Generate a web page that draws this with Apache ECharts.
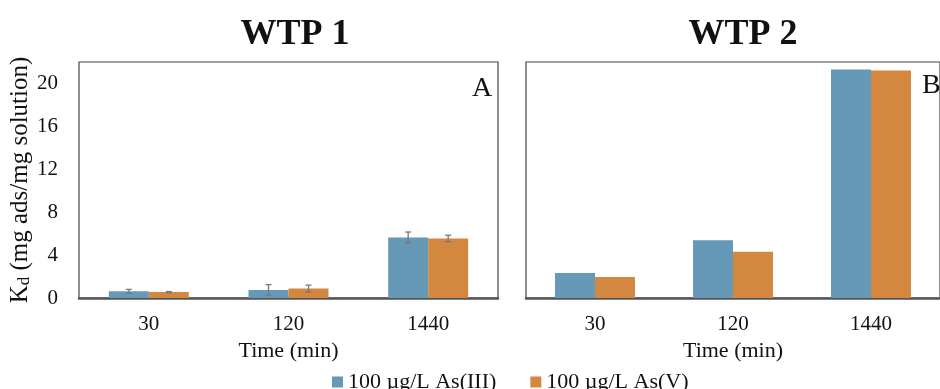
<!DOCTYPE html>
<html>
<head>
<meta charset="utf-8">
<script src="https://cdn.jsdelivr.net/npm/echarts@6/dist/echarts.min.js"></script>
<style>
html,body{margin:0;padding:0;background:#fff;}
#chart{width:940px;height:389px;}
</style>
</head>
<body>
<div id="chart"></div>
<script>
// ---- data ----
var categories = ['30', '120', '1440'];
var seriesNames = ['100 µg/L As(III)', '100 µg/L As(V)'];
var wtp1AsIII = [0.62, 0.75, 5.65];
var wtp1AsV = [0.55, 0.88, 5.55];
var wtp1AsIIIErr = [0.18, 0.5, 0.5];
var wtp1AsVErr = [0.05, 0.32, 0.3];
var wtp2AsIII = [2.32, 5.38, 21.3];
var wtp2AsV = [1.95, 4.3, 21.2];
var yTicks = [0, 4, 8, 12, 16, 20];

var BLUE = '#6699b8';
var ORANGE = '#d3873f';
var FONT = '"Liberation Serif", "Times New Roman", serif';
var BAR_W = 40;

var chart = echarts.init(document.getElementById('chart'), null, {renderer: 'canvas'});

function errRender(sign) {
  return function (params, api) {
    var idx = api.value(0), v = api.value(1), e = api.value(2);
    var x = api.coord([idx, 0])[0] + sign * BAR_W / 2;
    var yHi = api.coord([idx, v + e])[1];
    var yLo = api.coord([idx, v - e])[1];
    var st = {stroke: '#777', lineWidth: 1.3};
    return {
      type: 'group',
      children: [
        {type: 'line', shape: {x1: x, y1: yHi, x2: x, y2: yLo}, style: st},
        {type: 'line', shape: {x1: x - 3, y1: yHi, x2: x + 3, y2: yHi}, style: st},
        {type: 'line', shape: {x1: x - 3, y1: yLo, x2: x + 3, y2: yLo}, style: st}
      ]
    };
  };
}
function errData(vals, errs) {
  return vals.map(function (v, i) { return [i, v, errs[i]]; });
}

function xAxisCfg(gridIndex) {
  return {
    type: 'category', gridIndex: gridIndex, data: categories,
    name: 'Time (min)', nameLocation: 'middle', nameGap: 40,
    nameTextStyle: {fontFamily: FONT, fontSize: 22, color: '#111'},
    axisLine: {show: true, lineStyle: {color: '#555', width: 2.5}},
    axisTick: {show: false},
    axisLabel: {fontFamily: FONT, fontSize: 21, color: '#111', margin: 16}
  };
}
function yAxisCfg(gridIndex, showLabels) {
  var cfg = {
    type: 'value', gridIndex: gridIndex, min: 0, max: 22, interval: 4,
    axisLine: {show: false}, axisTick: {show: false}, splitLine: {show: false},
    axisLabel: {show: showLabels, showMaxLabel: false, fontFamily: FONT, fontSize: 21, color: '#111', margin: 21,
      formatter: function (v) { return yTicks.indexOf(v) >= 0 ? String(v) : ''; }}
  };
  if (showLabels) {
    cfg.name = 'K{sub|d} (mg ads/mg solution)';
    cfg.nameLocation = 'middle';
    cfg.nameGap = 46;
    cfg.nameTextStyle = {fontFamily: FONT, fontSize: 25, color: '#111',
      rich: {sub: {fontFamily: FONT, fontSize: 17, color: '#111', verticalAlign: 'bottom', padding: [8, 0, 0, 0]}}};
  }
  return cfg;
}

var option = {
  backgroundColor: '#fff',
  animation: false,
  color: [BLUE, ORANGE],
  title: [
    {text: 'WTP 1', left: 290, top: 12, textAlign: 'center',
      textStyle: {fontFamily: FONT, fontSize: 36, fontWeight: 'bold', color: '#111'}},
    {text: 'WTP 2', left: 738, top: 12, textAlign: 'center',
      textStyle: {fontFamily: FONT, fontSize: 36, fontWeight: 'bold', color: '#111'}}
  ],
  legend: {
    left: 327, top: 366, itemWidth: 11, itemHeight: 11, itemGap: 34, icon: 'rect',
    data: seriesNames,
    textStyle: {fontFamily: FONT, fontSize: 22, color: '#111'}
  },
  grid: [
    {left: 79, top: 62, width: 419, height: 236, show: true, borderColor: '#444', borderWidth: 1.2, backgroundColor: 'transparent'},
    {left: 526, top: 62, width: 420, height: 236, show: true, borderColor: '#444', borderWidth: 1.2, backgroundColor: 'transparent'}
  ],
  xAxis: [xAxisCfg(0), xAxisCfg(1)],
  yAxis: [yAxisCfg(0, true), yAxisCfg(1, false)],
  graphic: [
    {type: 'text', left: 472, top: 75, style: {text: 'A', fontFamily: FONT, fontSize: 28, fill: '#111'}},
    {type: 'text', left: 922, top: 72, style: {text: 'B', fontFamily: FONT, fontSize: 28, fill: '#111'}}
  ],
  series: [
    {name: seriesNames[0], type: 'bar', xAxisIndex: 0, yAxisIndex: 0, data: wtp1AsIII, barWidth: BAR_W, barGap: '0%', itemStyle: {color: BLUE}},
    {name: seriesNames[1], type: 'bar', xAxisIndex: 0, yAxisIndex: 0, data: wtp1AsV, barWidth: BAR_W, barGap: '0%', itemStyle: {color: ORANGE}},
    {name: seriesNames[0], type: 'bar', xAxisIndex: 1, yAxisIndex: 1, data: wtp2AsIII, barWidth: BAR_W, barGap: '0%', itemStyle: {color: BLUE}},
    {name: seriesNames[1], type: 'bar', xAxisIndex: 1, yAxisIndex: 1, data: wtp2AsV, barWidth: BAR_W, barGap: '0%', itemStyle: {color: ORANGE}},
    {type: 'custom', xAxisIndex: 0, yAxisIndex: 0, renderItem: errRender(-1), data: errData(wtp1AsIII, wtp1AsIIIErr), encode: {x: 0, y: 1}, z: 5, silent: true},
    {type: 'custom', xAxisIndex: 0, yAxisIndex: 0, renderItem: errRender(1), data: errData(wtp1AsV, wtp1AsVErr), encode: {x: 0, y: 1}, z: 5, silent: true}
  ]
};
chart.setOption(option);
</script>
</body>
</html>
